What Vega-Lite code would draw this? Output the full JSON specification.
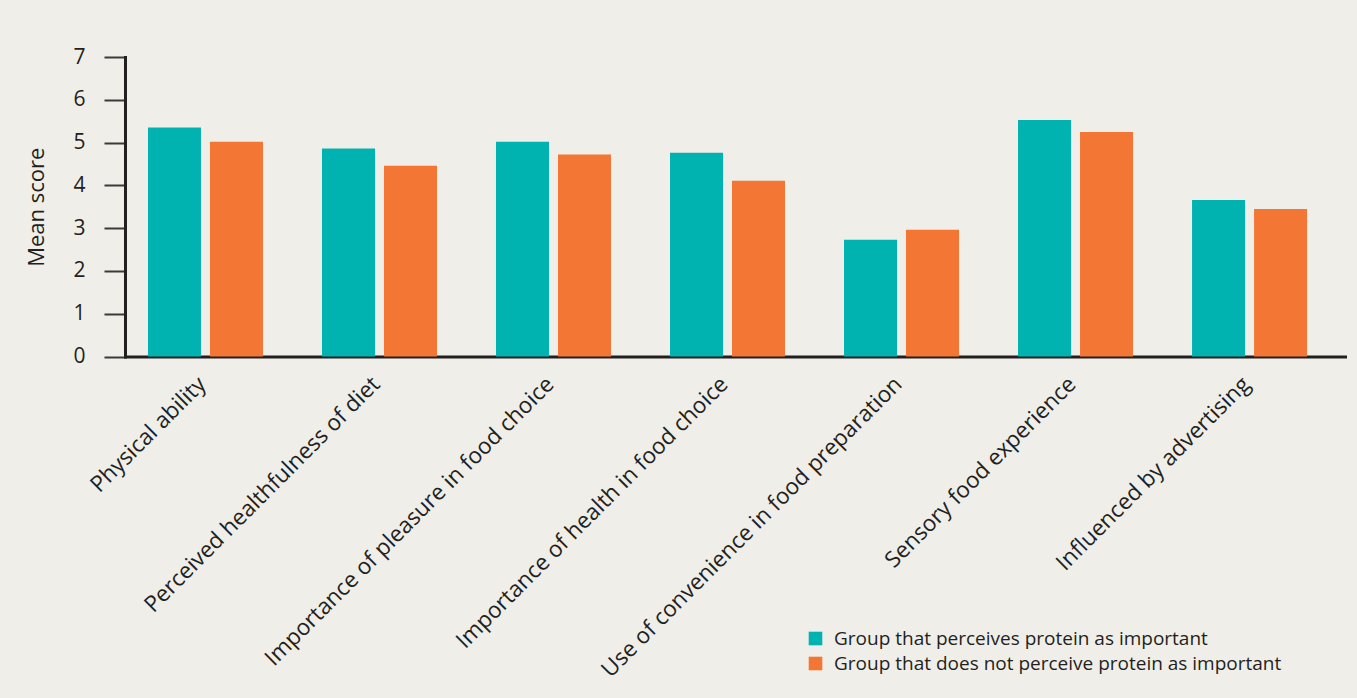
{
  "$schema": "https://vega.github.io/schema/vega-lite/v6.json",
  "autosize": {"type": "none"},
  "padding": {"left": 125, "top": 57, "right": 12, "bottom": 341.5},
  "width": 1220,
  "height": 299.5,
  "background": "#f0eee9",
  "data": {
    "values": [
      {"category": "Physical ability", "group": "Group that perceives protein as important", "score": 5.35},
      {"category": "Physical ability", "group": "Group that does not perceive protein as important", "score": 5.02},
      {"category": "Perceived healthfulness of diet", "group": "Group that perceives protein as important", "score": 4.86},
      {"category": "Perceived healthfulness of diet", "group": "Group that does not perceive protein as important", "score": 4.46},
      {"category": "Importance of pleasure in food choice", "group": "Group that perceives protein as important", "score": 5.02},
      {"category": "Importance of pleasure in food choice", "group": "Group that does not perceive protein as important", "score": 4.72},
      {"category": "Importance of health in food choice", "group": "Group that perceives protein as important", "score": 4.76},
      {"category": "Importance of health in food choice", "group": "Group that does not perceive protein as important", "score": 4.11},
      {"category": "Use of convenience in food preparation", "group": "Group that perceives protein as important", "score": 2.73},
      {"category": "Use of convenience in food preparation", "group": "Group that does not perceive protein as important", "score": 2.96},
      {"category": "Sensory food experience", "group": "Group that perceives protein as important", "score": 5.53},
      {"category": "Sensory food experience", "group": "Group that does not perceive protein as important", "score": 5.25},
      {"category": "Influenced by advertising", "group": "Group that perceives protein as important", "score": 3.66},
      {"category": "Influenced by advertising", "group": "Group that does not perceive protein as important", "score": 3.45}
    ]
  },
  "mark": {"type": "bar"},
  "encoding": {
    "x": {
      "field": "category",
      "type": "nominal",
      "sort": null,
      "scale": {"paddingInner": 0.339, "paddingOuter": 0.175, "align": 0.377},
      "axis": {
        "title": null,
        "labelAngle": -45,
        "labelFontSize": 22.5,
        "labelFont": "Open Sans",
        "labelColor": "#231f20",
        "labelPadding": 16,
        "labelOffset": -11,
        "ticks": false,
        "domainColor": "#231f20",
        "domainWidth": 3,
        "labelLimit": 0
      }
    },
    "xOffset": {
      "field": "group",
      "type": "nominal",
      "sort": null,
      "scale": {"paddingInner": 0.145, "paddingOuter": 0}
    },
    "y": {
      "field": "score",
      "type": "quantitative",
      "scale": {"domain": [0, 7], "nice": false},
      "axis": {
        "title": "Mean score",
        "titleFont": "Open Sans",
        "titleFontSize": 22,
        "titleFontWeight": "normal",
        "titleColor": "#231f20",
        "titlePadding": 24,
        "values": [0, 1, 2, 3, 4, 5, 6, 7],
        "labelFont": "Open Sans",
        "labelFontSize": 21,
        "labelColor": "#231f20",
        "labelPadding": 19,
        "tickSize": 21,
        "tickColor": "#3a3a3a",
        "tickWidth": 2,
        "domainColor": "#231f20",
        "domainWidth": 3,
        "grid": false
      }
    },
    "color": {
      "field": "group",
      "type": "nominal",
      "sort": null,
      "scale": {
        "domain": ["Group that perceives protein as important", "Group that does not perceive protein as important"],
        "range": ["#00b3b0", "#f37634"]
      },
      "legend": {
        "title": null,
        "orient": "none",
        "legendX": 681,
        "legendY": 572,
        "symbolType": "square",
        "symbolSize": 185,
        "symbolStrokeWidth": 0,
        "labelFont": "Open Sans",
        "labelFontSize": 19,
        "labelColor": "#231f20",
        "labelOffset": 9,
        "rowPadding": 5,
        "padding": 0,
        "labelLimit": 0
      }
    }
  },
  "config": {
    "view": {"stroke": null},
    "axis": {"domainCap": "square"}
  }
}
